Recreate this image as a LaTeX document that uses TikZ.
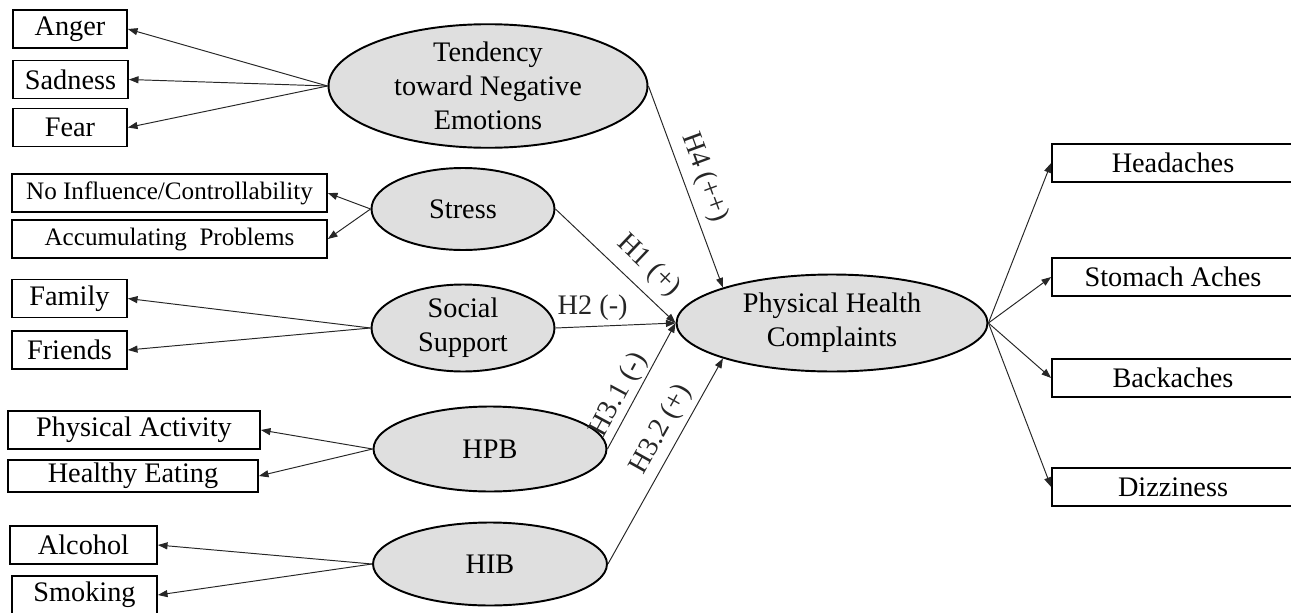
\documentclass[tikz,border=0pt]{standalone}
\usepackage{fontspec}
\setmainfont{Liberation Serif}
\usetikzlibrary{arrows.meta,shapes.geometric}

\begin{document}
\begin{tikzpicture}[x=0.02cm, y=-0.02cm,
    txt/.style={font=\fontsize{16.1}{19.2}\selectfont},
    item/.style={draw, line width=1pt, txt, inner sep=0pt, minimum height=0.76cm},
    smallitem/.style={item, font=\fontsize{14.3}{16.5}\selectfont},
    construct/.style={draw, ellipse, fill=gray!25, line width=1.1pt, txt, align=center, inner sep=0pt},
    load/.style={-{Triangle[length=5.5pt,width=4pt]}, line width=0.55pt, black!85},
    hyp/.style={txt, sloped, above}]
    \useasboundingbox (0,0) rectangle (1291,612);
    \clip (0,0) rectangle (1291,612);

    % constructs
    \node[construct, minimum width=6.38cm, minimum height=2.34cm] (tne) at (488,86) {Tendency\\toward Negative\\Emotions};
    \node[construct, minimum width=3.66cm, minimum height=1.64cm] (stress) at (463,209) {Stress};
    \node[construct, minimum width=3.66cm, minimum height=1.74cm] (social) at (463,328) {Social\\Support};
    \node[construct, minimum width=4.66cm, minimum height=1.7cm] (hpb) at (490,449) {HPB};
    \node[construct, minimum width=4.68cm, minimum height=1.66cm] (hib) at (490,564) {HIB};
    \node[construct, minimum width=6.22cm, minimum height=1.94cm] (phc) at (832,323) {Physical Health\\Complaints};

    % indicators
    \node[item, minimum width=2.28cm] (anger) at (70,29) {Anger};
    \node[item, minimum width=2.3cm] (sadness) at (70.5,79.5) {Sadness};
    \node[item, minimum width=2.28cm] (fear) at (70,127.5) {Fear};
    \node[smallitem, minimum width=6.3cm] (noinfl) at (169.5,193) {No Influence/Controllability};
    \node[smallitem, minimum width=6.3cm] (accum) at (169.5,239) {Accumulating~ Problems};
    \node[item, minimum width=2.3cm] (family) at (69.5,298.5) {Family};
    \node[item, minimum width=2.3cm] (friends) at (69.5,350) {Friends};
    \node[item, minimum width=5.04cm] (physact) at (134,430) {Physical Activity};
    \node[item, minimum width=5cm, minimum height=0.64cm] (healthy) at (133,476) {Healthy Eating};
    \node[item, minimum width=2.94cm] (alcohol) at (83.5,545) {Alcohol};
    \node[item, minimum width=2.9cm] (smoking) at (84.5,595) {Smoking};

    \node[item, minimum width=4.84cm] (headaches) at (1173,163) {Headaches};
    \node[item, minimum width=4.84cm] (stomach) at (1173,277) {Stomach Aches};
    \node[item, minimum width=4.84cm] (backaches) at (1173,378) {Backaches};
    \node[item, minimum width=4.84cm] (dizziness) at (1173,487) {Dizziness};

    \draw[load] (tne.west) -- (anger.east);
    \draw[load] (tne.west) -- (sadness.east);
    \draw[load] (tne.west) -- (fear.east);
    \draw[load] (stress.west) -- (noinfl.east);
    \draw[load] (stress.west) -- (accum.east);
    \draw[load] (social.west) -- (family.east);
    \draw[load] (social.west) -- (friends.east);
    \draw[load] (hpb.west) -- (physact.east);
    \draw[load] (hpb.west) -- (healthy.east);
    \draw[load] (hib.west) -- (alcohol.east);
    \draw[load] (hib.west) -- (smoking.east);

    \draw[load] (phc.east) -- (headaches.west);
    \draw[load] (phc.east) -- (stomach.west);
    \draw[load] (phc.east) -- (backaches.west);
    \draw[load] (phc.east) -- (dizziness.west);

    % hypotheses
    \draw[load] (tne.east) -- (phc.162) node[hyp, pos=0.49, above=1pt] {H4 (++)};
    \draw[load] (stress.east) -- (phc.west) node[hyp, pos=0.645, above=2pt] {H1 (+)};
    \draw[load] (social.east) -- (phc.west) node[txt, above, pos=0.31] {H2 (-)};
    \draw[load] (hpb.east) -- (phc.west) node[hyp, pos=0.37, above=-2pt] {H3.1 (-)};
    \draw[load] (hib.east) -- (phc.198) node[hyp, pos=0.61] {H3.2 (+)};
\end{tikzpicture}
\end{document}
